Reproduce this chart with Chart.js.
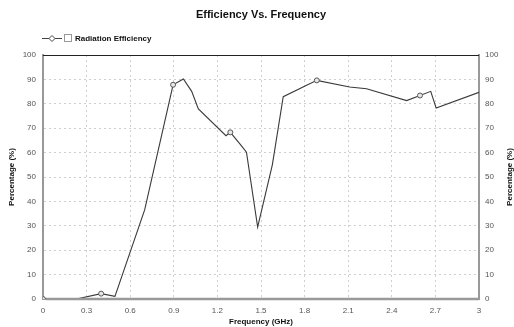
<!DOCTYPE html>
<html>
<head>
<meta charset="utf-8">
<script src="https://cdn.jsdelivr.net/npm/chart.js@4"></script>
<style>
  body { margin:0; background:#fff; }
  #wrap { width:514px; height:327px; }
</style>
</head>
<body>
<div id="wrap"><canvas id="effChart" width="514" height="327"></canvas></div>
<script>
// values
const freqGHz = [0, 0.23, 0.4, 0.495, 0.7, 0.895, 0.966, 1.023, 1.069, 1.259, 1.289, 1.356, 1.40, 1.477,
  1.578, 1.653, 1.884, 2.11, 2.226, 2.502, 2.594, 2.668, 2.705, 3.0];
const efficiency = [0, 0, 2.2, 1.1, 36.6, 87.8, 90.2, 85.1, 77.9, 66.9, 68.3, 63.5, 60.2, 29.5,
  55, 82.9, 89.6, 86.9, 86.2, 81.3, 83.4, 85.1, 78.3, 84.7];
const markedFreq = [0, 0.4, 0.895, 1.289, 1.884, 2.594];
const xTicks = [0, 0.3, 0.6, 0.9, 1.2, 1.5, 1.8, 2.1, 2.4, 2.7, 3];
const yTicks = [0, 10, 20, 30, 40, 50, 60, 70, 80, 90, 100];

const FONT = "'Liberation Sans', Arial, sans-serif";
Chart.defaults.font.family = FONT;
Chart.defaults.font.size = 8;
Chart.defaults.color = '#555';

const tickSet = vals => axis => { axis.ticks = vals.map(v => ({value:v})); };

// title, legend, axis titles and the frame lines
const decor = {
  id:'decor',
  afterDatasetsDraw(chart){
    // bottom axis sits on top of the curve, as in the original
    const ctx = chart.ctx, a = chart.chartArea;
    ctx.save();
    ctx.strokeStyle = '#999'; ctx.lineWidth = 2.4;
    ctx.beginPath(); ctx.moveTo(a.left + 3, a.bottom); ctx.lineTo(a.right, a.bottom); ctx.stroke();
    ctx.restore();
  },
  afterDraw(chart){
    const ctx = chart.ctx, a = chart.chartArea;
    ctx.save();
    ctx.strokeStyle = '#222'; ctx.lineWidth = 1;
    ctx.beginPath(); ctx.moveTo(a.left, a.top + 0.5); ctx.lineTo(a.right, a.top + 0.5); ctx.stroke();

    ctx.fillStyle = '#111';
    ctx.font = 'bold 11px ' + FONT;
    ctx.textAlign = 'center'; ctx.textBaseline = 'middle';
    ctx.fillText('Efficiency Vs. Frequency', 261, 15);

    // legend
    ctx.strokeStyle = '#444'; ctx.lineWidth = 1;
    ctx.beginPath(); ctx.moveTo(42, 38.5); ctx.lineTo(62, 38.5); ctx.stroke();
    ctx.fillStyle = '#fff';
    ctx.beginPath(); ctx.moveTo(52, 35.5); ctx.lineTo(55, 38.5); ctx.lineTo(52, 41.5); ctx.lineTo(49, 38.5); ctx.closePath();
    ctx.fill(); ctx.stroke();
    ctx.strokeStyle = '#999';
    ctx.strokeRect(64.5, 34.5, 7, 7);
    ctx.fillStyle = '#111';
    ctx.font = 'bold 8px ' + FONT;
    ctx.textAlign = 'left';
    ctx.fillText('Radiation Efficiency', 75, 38.5);

    // axis titles
    ctx.textAlign = 'center';
    ctx.fillText('Frequency (GHz)', (a.left + a.right) / 2, 322);
    const midY = (a.top + a.bottom) / 2;
    [12, 510].forEach(x => {
      ctx.save();
      ctx.translate(x, midY); ctx.rotate(-Math.PI / 2);
      ctx.fillText('Percentage (%)', 0, 0);
      ctx.restore();
    });
    ctx.restore();
  }
};

new Chart(document.getElementById('effChart'), {
  type:'line',
  data:{
    datasets:[{
      data: freqGHz.map((f,i) => ({x:f, y:efficiency[i]})),
      borderColor:'#3a3a3a', borderWidth:1.1,
      pointRadius: c => markedFreq.includes(freqGHz[c.dataIndex]) ? 2.5 : 0,
      pointBackgroundColor:'#e8e8e8', pointBorderColor:'#555', pointBorderWidth:1,
      tension:0, fill:false
    }]
  },
  plugins:[decor],
  options:{
    responsive:false, animation:false,
    layout:{ padding:{ top:55, left:0, right:0, bottom:0 } },
    plugins:{ legend:{display:false}, title:{display:false}, tooltip:{enabled:false} },
    scales:{
      x:{
        type:'linear', min:0, max:3,
        afterBuildTicks: tickSet(xTicks),
        afterFit: s => { s.height = 28; },
        ticks:{ padding:7, callback: v => String(+v.toFixed(1)) },
        grid:{ color:'#cfcfcf', drawTicks:false },
        border:{ color:'#999', width:2, dash:[2,3] }
      },
      y:{
        min:0, max:100,
        afterBuildTicks: tickSet(yTicks),
        afterFit: s => { s.width = 43; },
        ticks:{ padding:7 },
        grid:{ color:'#cfcfcf', drawTicks:false },
        border:{ color:'#999', width:2, dash:[2,3] }
      },
      y2:{
        position:'right', min:0, max:100,
        afterBuildTicks: tickSet(yTicks),
        afterFit: s => { s.width = 35; },
        ticks:{ padding:6 },
        grid:{ display:false, drawTicks:false },
        border:{ color:'#999', width:2 }
      }
    }
  }
});
</script>
</body>
</html>
